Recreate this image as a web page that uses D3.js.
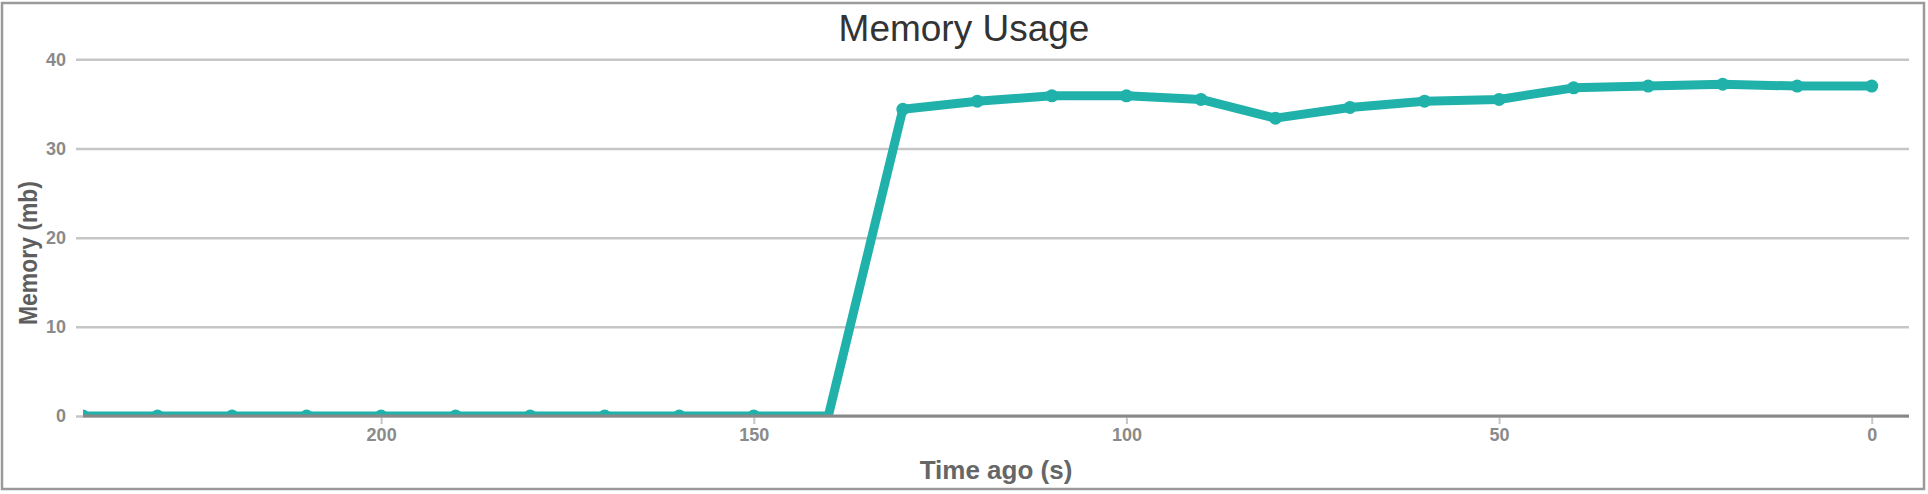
<!DOCTYPE html>
<html>
<head>
<meta charset="utf-8">
<script src="https://cdn.jsdelivr.net/npm/d3@7"></script>
<style>
  html, body { margin: 0; padding: 0; background: #fff; }
  svg { display: block; font-family: "Liberation Sans", Arial, Helvetica, sans-serif; }
</style>
</head>
<body>
<svg id="chart" width="1928" height="494"></svg>
<script>
const chartTitle = "Memory Usage";
const xAxisTitle = "Time ago (s)";
const yAxisTitle = "Memory (mb)";
const timeAgo = [240, 230, 220, 210, 200, 190, 180, 170, 160, 150, 140, 130, 120, 110, 100, 90, 80, 70, 60, 50, 40, 30, 20, 10, 0];
const memoryMb = [0, 0, 0, 0, 0, 0, 0, 0, 0, 0, 0, 34.4, 35.3, 35.9, 35.9, 35.5, 33.4, 34.6, 35.3, 35.5, 36.8, 37.0, 37.2, 37.0, 37.0];
const xTicks = [200, 150, 100, 50, 0];
const yTicks = [0, 10, 20, 30, 40];

const svg = d3.select("#chart");
const W = 1928, H = 494;
const plot = { left: 83, right: 1909, top: 59.3, bottom: 416 };

// frame
svg.append("rect").attr("x", 2).attr("y", 3).attr("width", 1922).attr("height", 486)
  .attr("fill", "none").attr("stroke", "#9a9a9a").attr("stroke-width", 2.5);

const x = d3.scaleLinear().domain([240, -5]).range([plot.left, plot.right]);
const y = d3.scaleLinear().domain([0, 40]).range([plot.bottom, plot.top]);

// title
svg.append("text").attr("x", W / 2).attr("y", 41).attr("text-anchor", "middle")
  .attr("font-size", 37).attr("fill", "#333").text(chartTitle);

// y axis with gridlines
const gy = svg.append("g").attr("transform", `translate(${plot.right},0)`);
gy.call(d3.axisLeft(y).tickValues(yTicks).tickSize(plot.right - 76).tickPadding(10));
gy.select(".domain").remove();
gy.selectAll(".tick line").attr("stroke", "#c6c6c6").attr("stroke-width", 2.5);
gy.selectAll(".tick text").attr("fill", "#8a8a8a").attr("font-size", 18).attr("font-weight", "bold")
  .attr("font-family", "Liberation Sans, Arial, sans-serif");

// x axis
const gx = svg.append("g").attr("transform", `translate(0,${plot.bottom})`);
gx.call(d3.axisBottom(x).tickValues(xTicks).tickSize(8).tickSizeOuter(0).tickPadding(4).tickFormat(d3.format("d")));
gx.select(".domain").remove();
gx.selectAll(".tick line").attr("stroke", "#c6c6c6").attr("stroke-width", 2);
gx.selectAll(".tick text").attr("fill", "#8a8a8a").attr("font-size", 18).attr("font-weight", "bold")
  .attr("font-family", "Liberation Sans, Arial, sans-serif");

// clip
svg.append("defs").append("clipPath").attr("id", "plotclip").append("rect")
  .attr("x", plot.left).attr("y", 0).attr("width", plot.right - plot.left).attr("height", plot.bottom);

const data = timeAgo.map((t, i) => ({ t, v: memoryMb[i] }));
const g = svg.append("g").attr("clip-path", "url(#plotclip)");
g.append("path").datum(data)
  .attr("d", d3.line().x(d => x(d.t)).y(d => y(d.v)))
  .attr("fill", "none").attr("stroke", "#20b2aa").attr("stroke-width", 9)
  .attr("stroke-linejoin", "round");
g.selectAll("circle").data(data.filter(d => d.t !== 140)).join("circle")
  .attr("cx", d => x(d.t)).attr("cy", d => y(d.v)).attr("r", 6.5).attr("fill", "#20b2aa");

// baseline axis line
svg.append("line").attr("x1", plot.left).attr("x2", plot.right)
  .attr("y1", y(0)).attr("y2", y(0)).attr("stroke", "#888").attr("stroke-width", 3);

// axis titles
svg.append("text").attr("x", (plot.left + plot.right) / 2).attr("y", 479).attr("text-anchor", "middle")
  .attr("font-size", 26).attr("font-weight", "bold").attr("fill", "#666").text(xAxisTitle);
svg.append("text").attr("transform", "translate(37,253) rotate(-90)").attr("text-anchor", "middle")
  .attr("font-size", 25).attr("font-weight", "bold").attr("fill", "#5e5e5e")
  .attr("textLength", 144).attr("lengthAdjust", "spacingAndGlyphs").text(yAxisTitle);
</script>
</body>
</html>
